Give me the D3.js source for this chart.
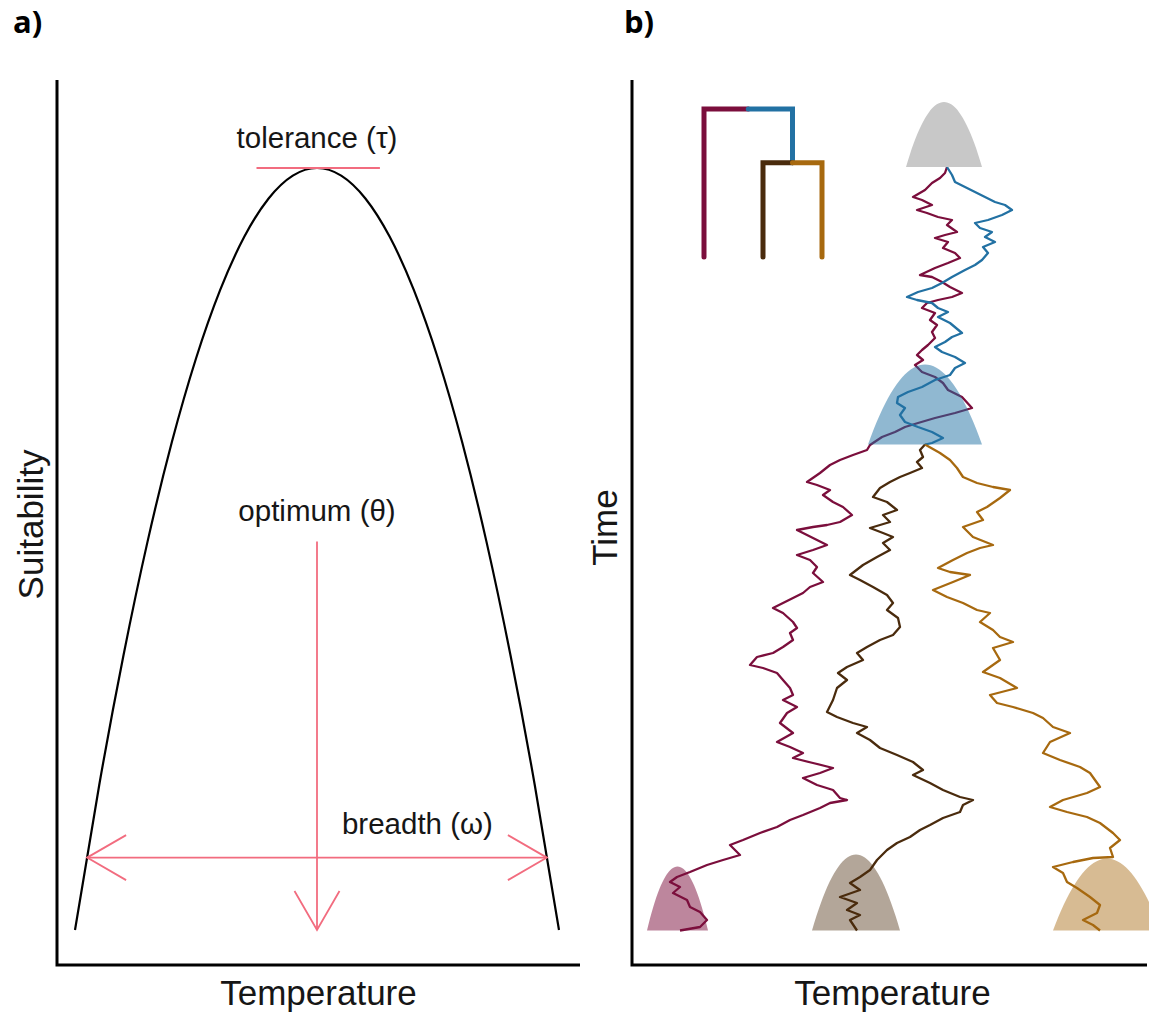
<!DOCTYPE html>
<html>
<head>
<meta charset="utf-8">
<script src="https://cdn.jsdelivr.net/npm/d3@7"></script>
<style>
  body { margin: 0; background: #fff; }
  text { font-family: "Liberation Sans", Arial, sans-serif; fill: #161616; }
  .panel-tag { font-family: "Open Sans", sans-serif; font-weight: 700; fill: #000; }
</style>
</head>
<body>
<svg id="fig" width="1149" height="1012"></svg>
<script>
// ---------- Panel a: thermal response curve (optimum at 0, breadth scaled to 1) ----------
const responseTemp = [-1.0, -0.9, -0.8, -0.7, -0.6, -0.5, -0.4, -0.3, -0.2, -0.1, 0.0,
                       0.1, 0.2, 0.3, 0.4, 0.5, 0.6, 0.7, 0.8, 0.9, 1.0];
const responseSuit = [0.00, 0.19, 0.36, 0.51, 0.64, 0.75, 0.84, 0.91, 0.96, 0.99, 1.00,
                      0.99, 0.96, 0.91, 0.84, 0.75, 0.64, 0.51, 0.36, 0.19, 0.00];

// annotation values
const toleranceLevel = 1.0;
const toleranceSpan = [-0.25, 0.26];
const optimumTemp = 0.0;
const optimumFrom = 0.51;
const breadthLevel = 0.095;
const breadthEnds = [-0.95, 0.95];
const annotationLabels = ["tolerance (\u03C4)", "optimum (\u03B8)", "breadth (\u03C9)"];

// ---------- Panel b: trait evolution along a three-tip tree ----------
const lineages = ["red", "blue", "brown", "gold"];
const lineageColor = ["#7b0e3c", "#2271a3", "#4a2b0d", "#a7690f"];

// tree: tip positions 0..2, node times in the same units as the walks
const splitTime = 27.75;
const presentTime = 76.35;
const branchFromX = [0.75, 0.75, 1.5, 1.5];
const branchToX = [0, 1.5, 1, 2];
const branchStart = [0, 0, splitTime, splitTime];
const branchEnd = [presentTime, splitTime, presentTime, presentTime];

// simulated temperature optima, [time, temperature]
const walkRed = [
  [0, 31.5], [0.6, 31.3], [1.1, 30.8], [1.6, 30.0], [2.3, 29.3], [3.0, 28.1], [3.3, 29.0], [3.8, 30.0],
  [4.3, 28.5], [4.6, 29.5], [5.0, 30.6], [5.3, 32.0], [5.8, 31.5], [6.5, 32.5], [6.8, 31.3], [7.1, 30.3],
  [7.5, 31.6], [8.1, 31.1], [8.6, 32.3], [9.1, 32.8], [9.6, 31.6], [10.1, 30.3], [10.8, 28.8], [11.0, 30.0],
  [11.5, 31.0], [12.0, 31.8], [12.6, 33.0], [13.0, 32.0], [13.3, 30.6], [13.6, 29.5], [14.1, 29.0], [14.6, 30.3],
  [15.3, 29.8], [15.8, 30.5], [16.5, 30.0], [17.1, 30.3], [17.8, 29.6], [18.3, 29.0], [18.8, 28.5], [19.3, 29.1],
  [19.8, 28.3], [20.5, 29.0], [21.0, 30.3], [21.6, 31.1], [22.3, 31.6], [23.0, 33.0], [24.1, 34.0], [24.6, 32.3],
  [25.1, 30.3], [25.6, 28.6], [26.0, 27.3], [26.5, 26.3], [27.0, 25.0], [27.8, 23.8], [28.3, 23.5], [28.8, 22.1],
  [29.3, 20.8], [29.8, 19.8], [30.6, 18.8], [31.5, 17.5], [31.8, 18.5], [32.3, 19.8], [32.8, 19.1], [33.5, 20.1],
  [34.0, 21.1], [34.8, 22.0], [35.5, 20.8], [35.8, 19.5], [36.0, 18.1], [36.3, 16.5], [36.8, 17.5], [37.3, 18.5],
  [37.8, 19.5], [38.3, 18.1], [38.8, 16.5], [39.3, 17.8], [40.0, 18.5], [40.6, 18.1], [41.5, 19.1], [42.0, 17.8],
  [42.6, 17.1], [43.1, 16.1], [43.6, 15.1], [44.1, 14.1], [44.6, 15.1], [45.5, 16.1], [46.1, 16.5], [46.6, 15.8],
  [47.3, 16.1], [48.0, 15.1], [48.6, 14.1], [49.0, 12.5], [49.8, 11.8], [50.1, 13.1], [50.6, 14.5], [51.3, 15.1],
  [52.1, 15.8], [52.8, 16.1], [53.3, 15.1], [54.0, 16.5], [54.6, 15.5], [55.6, 14.8], [56.6, 16.1], [57.5, 14.5],
  [58.0, 15.8], [58.6, 17.1], [59.1, 16.1], [59.6, 18.1], [60.1, 20.1], [60.6, 18.8], [61.1, 17.1], [61.8, 18.5],
  [62.3, 20.1], [63.1, 20.8], [63.3, 21.5], [63.6, 19.8], [64.1, 18.8], [64.8, 17.1], [65.3, 15.8], [66.0, 14.5],
  [66.6, 12.8], [67.3, 11.1], [67.8, 9.8], [68.8, 10.8], [69.3, 9.1], [69.8, 7.5], [70.5, 5.8], [71.0, 4.5],
  [71.5, 3.8], [72.0, 4.8], [72.6, 4.1], [73.3, 5.5], [74.0, 5.8], [74.5, 6.8], [75.3, 7.5], [76.0, 6.8], [76.35, 4.8]
];
const walkBlue = [
  [0, 31.5], [0.8, 32.0], [1.5, 32.3], [2.0, 33.3], [2.5, 34.3], [3.0, 35.3], [3.5, 36.3], [3.8, 37.3],
  [4.3, 38.0], [4.8, 37.0], [5.3, 35.6], [5.6, 34.3], [6.1, 34.8], [6.5, 36.0], [7.0, 35.3], [7.5, 36.3],
  [8.0, 35.1], [8.6, 35.6], [9.3, 35.0], [9.8, 34.3], [10.3, 33.3], [11.0, 32.0], [11.6, 31.0], [12.1, 30.0],
  [12.5, 28.6], [13.0, 27.5], [13.3, 28.5], [13.6, 30.0], [14.1, 30.6], [14.5, 31.6], [15.0, 30.6], [15.6, 31.8],
  [16.6, 33.0], [17.0, 32.0], [17.5, 31.3], [18.0, 30.3], [18.5, 31.0], [19.0, 32.3], [19.6, 33.3], [20.1, 32.3],
  [20.8, 31.8], [21.3, 30.3], [22.0, 29.0], [22.5, 27.6], [23.0, 26.6], [23.6, 26.5], [24.1, 27.3], [24.8, 26.8],
  [25.5, 27.3], [26.0, 28.6], [26.5, 30.0], [27.1, 31.1], [27.6, 30.0], [27.75, 29.3]
];
const walkBrown = [
  [27.75, 29.3], [28.3, 28.8], [29.0, 29.1], [29.5, 28.5], [30.1, 29.0], [30.6, 27.8], [31.0, 26.8], [31.5, 25.8],
  [32.1, 24.8], [33.0, 24.1], [33.5, 25.5], [34.3, 26.5], [34.8, 25.1], [35.5, 25.8], [36.1, 23.8], [36.6, 25.1],
  [37.0, 26.1], [37.6, 25.1], [38.3, 25.8], [39.0, 24.5], [39.8, 23.1], [40.8, 21.8], [41.3, 22.8], [42.0, 24.1],
  [42.8, 25.5], [43.6, 26.1], [44.3, 25.5], [45.1, 26.6], [46.0, 26.8], [46.8, 26.1], [47.3, 24.8], [48.0, 23.5],
  [48.6, 22.5], [49.3, 23.1], [50.0, 21.5], [50.6, 20.6], [51.3, 21.5], [52.1, 20.5], [53.3, 20.1], [54.5, 19.5],
  [55.0, 20.5], [55.6, 22.1], [56.0, 23.5], [56.6, 22.5], [57.3, 23.8], [58.1, 24.8], [58.8, 26.5], [59.5, 28.1],
  [60.3, 29.1], [60.8, 28.1], [61.6, 29.8], [62.3, 31.1], [63.0, 32.8], [63.3, 34.1], [63.8, 33.1], [64.5, 32.8],
  [65.1, 31.1], [65.8, 29.8], [66.3, 28.8], [67.0, 27.8], [67.6, 26.5], [68.3, 25.5], [69.3, 24.5], [70.3, 23.8],
  [71.0, 22.8], [71.6, 21.8], [72.3, 22.8], [73.0, 20.8], [73.6, 22.5], [74.3, 21.5], [74.8, 22.8], [75.3, 21.8],
  [76.35, 22.5]
];
const walkGold = [
  [27.75, 29.3], [28.6, 30.8], [29.3, 31.8], [30.1, 32.5], [31.0, 33.1], [31.6, 34.5], [32.0, 36.1], [32.3, 37.8],
  [33.1, 36.8], [34.0, 35.5], [34.5, 34.5], [35.3, 35.1], [36.0, 33.1], [37.0, 34.1], [37.8, 36.1], [38.1, 34.8],
  [38.6, 33.5], [39.3, 32.1], [40.1, 30.6], [40.5, 31.8], [40.8, 33.8], [41.5, 32.1], [42.3, 30.1], [43.0, 31.5],
  [43.6, 33.1], [44.3, 34.5], [44.6, 35.8], [45.5, 34.8], [46.3, 36.1], [47.0, 36.8], [47.5, 38.1], [48.1, 36.1],
  [49.3, 36.8], [50.5, 35.1], [51.1, 36.8], [52.1, 38.5], [52.8, 35.8], [53.6, 36.5], [54.0, 38.1], [54.6, 40.1],
  [55.1, 41.1], [56.0, 42.1], [56.6, 43.8], [57.5, 41.8], [58.6, 41.1], [59.3, 42.8], [60.0, 44.8], [60.6, 45.8],
  [62.0, 46.8], [62.6, 45.5], [63.3, 43.1], [64.0, 41.8], [64.5, 43.5], [65.0, 45.5], [65.6, 46.8], [66.6, 48.1],
  [67.3, 48.8], [68.1, 47.8], [69.0, 48.1], [69.1, 46.1], [69.5, 44.1], [70.0, 42.1], [70.6, 43.1], [71.5, 43.5],
  [72.1, 44.5], [73.0, 45.8], [73.8, 46.8], [74.6, 46.5], [75.3, 45.1], [75.8, 46.1], [76.35, 46.8]
];
const walks = [walkRed, walkBlue, walkBrown, walkGold];

// niches: ancestral (root), blue ancestor at the split, and the three tips
const nicheOptimum = [31.2, 29.3, 4.55, 22.4, 47.5];
const nicheBreadth = [3.8, 5.7, 3.05, 4.4, 5.4];
const nicheTolerance = [6.5, 8.0, 6.4, 7.6, 7.2];
const nicheTime = [0, splitTime, presentTime, presentTime, presentTime];
const nicheFill = ["#c8c8c8", "#2271a3", "#7b0e3c", "#4a2b0d", "#a7690f"];
const nicheOpacity = [1, 0.5, 0.5, 0.42, 0.45];

const axisTitles = ["Suitability", "Temperature", "Time", "Temperature"];
const panelTags = ["a)", "b)"];

// ---------- drawing ----------
const svg = d3.select("#fig");
const pink = "#f26c7f";

// panel a frame
const A = { left: 57, right: 580, top: 80, bottom: 965 };
const xA = d3.scaleLinear().domain([-1, 1]).range([75, 559]);
const yA = d3.scaleLinear().domain([0, 1]).range([930, 168]);

const gA = svg.append("g");
gA.append("path")
  .attr("d", `M${A.left},${A.top}V${A.bottom}H${A.right}`)
  .attr("fill", "none").attr("stroke", "#000").attr("stroke-width", 3);

const curveLine = d3.line()
  .x((d, i) => xA(responseTemp[i]))
  .y(d => yA(d))
  .curve(d3.curveNatural);
gA.append("path")
  .attr("d", curveLine(responseSuit))
  .attr("fill", "none").attr("stroke", "#000").attr("stroke-width", 2.2);

// tolerance bar
gA.append("line")
  .attr("x1", xA(toleranceSpan[0])).attr("x2", xA(toleranceSpan[1]))
  .attr("y1", yA(toleranceLevel)).attr("y2", yA(toleranceLevel))
  .attr("stroke", pink).attr("stroke-width", 1.8);

// open arrowhead made of two strokes
function arrowHead(g, tipX, tipY, dx, dy) {
  const len = 39, half = 22.5;
  const bx = tipX - dx * len, by = tipY - dy * len;
  const px = -dy * half, py = dx * half;
  g.append("path")
    .attr("d", `M${bx + px},${by + py}L${tipX},${tipY}L${bx - px},${by - py}`)
    .attr("fill", "none").attr("stroke", pink).attr("stroke-width", 1.8);
}

// optimum arrow
gA.append("line")
  .attr("x1", xA(optimumTemp)).attr("x2", xA(optimumTemp))
  .attr("y1", yA(optimumFrom)).attr("y2", yA(0))
  .attr("stroke", pink).attr("stroke-width", 1.8);
arrowHead(gA, xA(optimumTemp), yA(0), 0, 1);

// breadth arrow
gA.append("line")
  .attr("x1", xA(breadthEnds[0])).attr("x2", xA(breadthEnds[1]))
  .attr("y1", yA(breadthLevel)).attr("y2", yA(breadthLevel))
  .attr("stroke", pink).attr("stroke-width", 1.8);
arrowHead(gA, xA(breadthEnds[0]), yA(breadthLevel), -1, 0);
arrowHead(gA, xA(breadthEnds[1]), yA(breadthLevel), 1, 0);

gA.append("text").attr("x", xA(0)).attr("y", 148).attr("text-anchor", "middle")
  .attr("font-size", 29.5).text(annotationLabels[0]);
gA.append("text").attr("x", xA(0)).attr("y", 521).attr("text-anchor", "middle")
  .attr("font-size", 29.5).text(annotationLabels[1]);
gA.append("text").attr("x", xA(0.415)).attr("y", 834).attr("text-anchor", "middle")
  .attr("font-size", 29.5).text(annotationLabels[2]);

gA.append("text").attr("transform", `translate(43,${(A.top + A.bottom) / 2 + 2}) rotate(-90)`)
  .attr("text-anchor", "middle").attr("font-size", 35).text(axisTitles[0]);
gA.append("text").attr("x", (A.left + A.right) / 2).attr("y", 1005)
  .attr("text-anchor", "middle").attr("font-size", 35).text(axisTitles[1]);

// panel b frame
const B = { left: 632, right: 1147, top: 80, bottom: 965 };
const xB = d3.scaleLinear().domain([0, 51.5]).range([B.left, B.right]);
const yB = d3.scaleLinear().domain([-8.7, 79.8]).range([B.top, B.bottom]);

const gB = svg.append("g");
gB.append("path")
  .attr("d", `M${B.left},${B.top}V${B.bottom}H${B.right}`)
  .attr("fill", "none").attr("stroke", "#000").attr("stroke-width", 3);

// trait walks
const walkLine = d3.line().x(d => xB(d[1])).y(d => yB(d[0]));
gB.selectAll("path.walk").data(walks).join("path")
  .attr("class", "walk")
  .attr("d", walkLine)
  .attr("fill", "none")
  .attr("stroke", (d, i) => lineageColor[i])
  .attr("stroke-width", 2.3)
  .attr("stroke-linejoin", "round");

// niche curves share the response shape of panel a
const nicheArea = d3.area()
  .curve(d3.curveNatural);
gB.selectAll("path.niche").data(nicheOptimum).join("path")
  .attr("class", "niche")
  .attr("d", (opt, k) => {
    const pts = responseSuit.map((s, i) => [
      xB(opt + responseTemp[i] * nicheBreadth[k]),
      yB(nicheTime[k] - s * nicheTolerance[k])
    ]);
    return nicheArea.x(p => p[0]).y0(yB(nicheTime[k])).y1(p => p[1])(pts);
  })
  .attr("fill", (d, k) => nicheFill[k])
  .attr("fill-opacity", (d, k) => nicheOpacity[k]);

// phylogeny inset
const xT = d3.scaleLinear().domain([0, 2]).range([704, 822]);
const yT = d3.scaleLinear().domain([0, presentTime]).range([109, 257]);
gB.selectAll("path.branch").data(lineages).join("path")
  .attr("class", "branch")
  .attr("d", (d, i) => `M${xT(branchFromX[i])},${yT(branchStart[i])}H${xT(branchToX[i])}V${yT(branchEnd[i])}`)
  .attr("fill", "none")
  .attr("stroke", (d, i) => lineageColor[i])
  .attr("stroke-width", 5)
  .attr("stroke-linecap", "round")
  .attr("stroke-linejoin", "miter");

gB.append("text").attr("transform", `translate(617,${(B.top + B.bottom) / 2 + 5}) rotate(-90)`)
  .attr("text-anchor", "middle").attr("font-size", 35).text(axisTitles[2]);
gB.append("text").attr("x", (B.left + B.right) / 2 + 3).attr("y", 1005)
  .attr("text-anchor", "middle").attr("font-size", 35).text(axisTitles[3]);

// panel tags
svg.append("text").attr("class", "panel-tag").attr("x", 13).attr("y", 33)
  .attr("font-size", 31).text(panelTags[0]);
svg.append("text").attr("class", "panel-tag").attr("x", 624).attr("y", 33)
  .attr("font-size", 31).text(panelTags[1]);
</script>
</body>
</html>
